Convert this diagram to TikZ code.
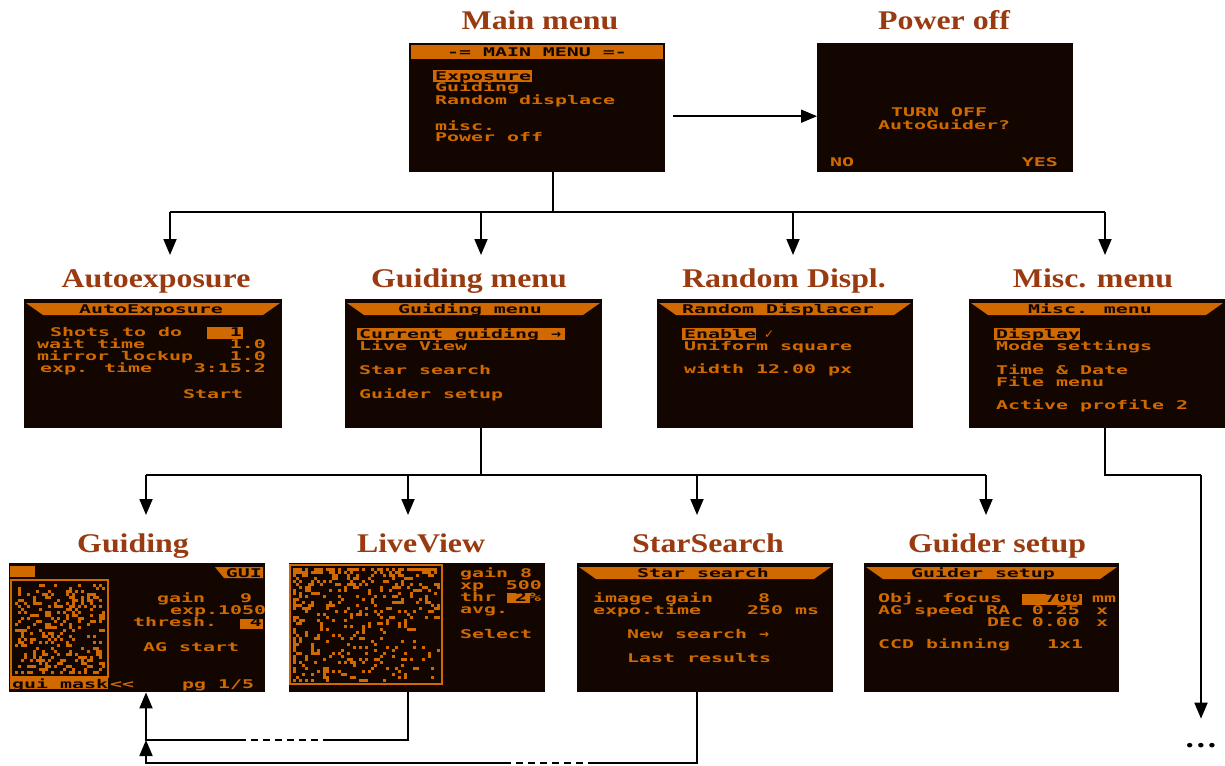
\documentclass[tikz,border=0pt]{standalone}
\usepackage{fontspec}
\usetikzlibrary{arrows.meta}
\newfontfamily\lcdfam[FakeStretch=1.66]{DejaVu Sans Mono}
\newfontfamily\ttlfam[FakeStretch=1.18]{Liberation Serif}
\newfontfamily\symfam{DejaVu Sans}
\definecolor{lcdbg}{HTML}{130500}
\definecolor{lcdor}{HTML}{D06A00}
\definecolor{ttlc}{HTML}{9A3A10}
\tikzset{
  scr/.style={rectangle, fill=lcdbg, inner sep=0pt, anchor=north west},
  ttl/.style={font=\ttlfam\bfseries\fontsize{27}{27}\selectfont, text=ttlc, anchor=base, inner sep=0pt},
  lt/.style={font=\lcdfam\bfseries\fontsize{12}{12}\selectfont, text=lcdor, anchor=base west, inner sep=0pt},
  lr/.style={lt, anchor=base east},
  lc/.style={lt, anchor=base},
  hl/.style={text=lcdbg},
  ln/.style={line width=1.8pt, black},
  arr/.style={ln, -{Triangle[length=16pt,width=13pt]}},
  dsh/.style={ln, dash pattern=on 7pt off 5pt},
}
\begin{document}
\begin{tikzpicture}[x=1pt,y=-1pt]
\useasboundingbox (0,0) rectangle (1225,765);
\fill[white] (0,0) rectangle (1225,765);

% ---------- screens ----------
\node[scr, minimum width=256pt, minimum height=129pt] (main) at (409,43) {};
\node[scr, minimum width=256pt, minimum height=129pt] (power) at (817,43) {};
\node[scr, minimum width=258pt, minimum height=129pt] (auto) at (24,299) {};
\node[scr, minimum width=257pt, minimum height=129pt] (gmenu) at (345,299) {};
\node[scr, minimum width=256pt, minimum height=129pt] (rand) at (657,299) {};
\node[scr, minimum width=256pt, minimum height=129pt] (misc) at (969,299) {};
\node[scr, minimum width=256pt, minimum height=129pt] (guid) at (9,563) {};
\node[scr, minimum width=256pt, minimum height=129pt] (live) at (289,563) {};
\node[scr, minimum width=256pt, minimum height=129pt] (star) at (577,563) {};
\node[scr, minimum width=255pt, minimum height=129pt] (gset) at (864,563) {};

% ---------- titles ----------
\node[ttl] (tmain) at (540,30) {Main menu};
\node[ttl] (tpower) at (944,30) {Power off};
\node[ttl] (tauto) at (156,287) {Autoexposure};
\node[ttl] (tgmenu) at (469,287) {Guiding menu};
\node[ttl] (trand) at (784,287) {Random Displ.};
\node[ttl] (tmisc) at (1093,287) {Misc. menu};
\node[ttl] (tguid) at (133,552) {Guiding};
\node[ttl] (tlive) at (421,552) {LiveView};
\node[ttl] (tstar) at (708,552) {StarSearch};
\node[ttl] (tgset) at (997,552) {Guider setup};

% ---------- main menu ----------
\fill[lcdor] (411,45) rectangle (663,59);
\node[lc, hl] (mm0) at (537,57) {-= MAIN MENU =-};
\fill[lcdor] (433,70) rectangle (532,82);
\node[lt, hl] (mm1) at (435,81) {Exposure};
\node[lt] (mm2) at (435,92) {Guiding};
\node[lt] (mm3) at (435,105) {Random displace};
\node[lt] (mm4) at (435,130) {misc.};
\node[lt] (mm5) at (435,142) {Power off};

% ---------- power off ----------
\node[lt] (po1) at (891,117) {TURN OFF};
\node[lt] (po2) at (878,129) {AutoGuider?};
\node[lt] (po3) at (830,166) {NO};
\node[lr] (po4) at (1058,166) {YES};

% ---------- banners ----------
\foreach \xa/\xb/\yt in {26/280/303, 347/600/303, 659/911/303, 971/1223/303, 579/831/567, 866/1117/567}{
  \fill[lcdor] (\xa,\yt) -- (\xb,\yt) -- (\xb-17,\yt+12) -- (\xa+17,\yt+12) -- cycle;
}

% ---------- autoexposure ----------
\node[lc, hl] (ae0) at (151,313) {AutoExposure};
\node[lt] (ae1) at (50,336) {Shots to do};
\fill[lcdor] (207,327) rectangle (243,339);
\node[lr, hl] (ae1v) at (242,336) {1};
\node[lt] (ae2) at (37,348) {wait time};
\node[lr] (ae2v) at (266,348) {1.0};
\node[lt] (ae3) at (37,360) {mirror lockup};
\node[lr] (ae3v) at (266,360) {1.0};
\node[lt] (ae4) at (40,372) {exp. time};
\node[lr] (ae4v) at (266,372) {3:15.2};
\node[lt] (ae5) at (183,398) {Start};

% ---------- guiding menu ----------
\node[lc, hl] (gm0) at (470,313) {Guiding menu};
\fill[lcdor] (357,328) rectangle (565,340);
\node[lt, hl] (gm1) at (359,338) {Current guiding \symfam→};
\node[lt] (gm2) at (359,350) {Live View};
\node[lt] (gm3) at (359,374) {Star search};
\node[lt] (gm4) at (359,398) {Guider setup};

% ---------- random displacer ----------
\node[lc, hl] (rd0) at (778,313) {Random Displacer};
\fill[lcdor] (682,328) rectangle (756,340);
\node[lt, hl] (rd1) at (684,338) {Enable};
\node[lt] (rd1c) at (764,338) {\symfam\bfseries ✓};
\node[lt] (rd2) at (684,350) {Uniform square};
\node[lt] (rd3) at (684,373) {width 12.00 px};

% ---------- misc ----------
\node[lc, hl] (mi0) at (1090,313) {Misc. menu};
\fill[lcdor] (994,328) rectangle (1080,340);
\node[lt, hl] (mi1) at (996,338) {Display};
\node[lt] (mi2) at (996,350) {Mode settings};
\node[lt] (mi3) at (996,374) {Time \& Date};
\node[lt] (mi4) at (996,386) {File menu};
\node[lt] (mi5) at (996,409) {Active profile 2};

% ---------- guiding screen ----------
\fill[lcdor] (10,566) rectangle (35,577);
\fill[lcdor] (215,567) -- (263,567) -- (263,578) -- (224,578) -- cycle;
\node[lr, hl] (gu0) at (262,577) {GUI};
\draw[lcdor, line width=2pt] (11,580) rectangle (108,677);
\pgfmathsetseed{12}
\foreach \i in {1,...,300}{
  \pgfmathsetmacro\xx{15+int(rnd*30)*3}
  \pgfmathsetmacro\yy{584+int(rnd*30)*3}
  \fill[lcdor] (\xx,\yy) rectangle ++(3,3);
}
\node[lt] (gu1) at (157,602) {gain};
\node[lt] (gu1v) at (240,602) {9};
\node[lt] (gu2) at (170,614) {exp.1050};
\node[lt] (gu3) at (133,626) {thresh.};
\fill[lcdor] (240,619) rectangle (263,629);
\node[lr, hl] (gu3v) at (262,626) {4};
\node[lt] (gu4) at (143,651) {AG start};
\fill[lcdor] (10,677) rectangle (108,689);
\node[lt, hl] (gu5) at (12,688) {gui mask};
\node[lt] (gu6) at (110,688) {<<};
\node[lt] (gu7) at (182,688) {pg 1/5};

% ---------- liveview ----------
\draw[lcdor, line width=2pt] (290,565) rectangle (442,684);
\pgfmathsetseed{5}
\foreach \i in {1,...,300}{
  \pgfmathsetmacro\xx{293+int(49*rnd)*3}
  \pgfmathsetmacro\yy{568+int(38*rnd^2.2)*3}
  \fill[lcdor] (\xx,\yy) rectangle ++(3,3);
}
\foreach \i in {1,...,180}{
  \pgfmathsetmacro\xx{293+int(49*rnd^2.5)*3}
  \pgfmathsetmacro\yy{568+int(38*rnd)*3}
  \fill[lcdor] (\xx,\yy) rectangle ++(3,3);
}
\node[lt] (lv1) at (460,577) {gain 8};
\node[lt] (lv2) at (460,589) {xp};
\node[lr] (lv2v) at (542,589) {500};
\node[lt] (lv3) at (460,601) {thr};
\fill[lcdor] (507,593) rectangle (530,603);
\node[lt, hl] (lv3v) at (515,601) {2};
\node[lt] (lv3p) at (529,601) {\%};
\node[lt] (lv4) at (460,613) {avg.};
\node[lt] (lv5) at (460,638) {Select};

% ---------- star search ----------
\node[lc, hl] (ss0) at (703,577) {Star search};
\node[lt] (ss1) at (593,602) {image gain};
\node[lt] (ss1v) at (758,602) {8};
\node[lt] (ss2) at (593,614) {expo.time};
\node[lt] (ss2v) at (747,614) {250 ms};
\node[lt] (ss3) at (627,638) {New search \symfam→};
\node[lt] (ss4) at (627,662) {Last results};

% ---------- guider setup ----------
\node[lc, hl] (gs0) at (983,577) {Guider setup};
\node[lt] (gs1) at (878,602) {Obj. focus};
\fill[lcdor] (1022,594) rectangle (1082,605);
\node[lr, hl] (gs1v) at (1081,602) {700};
\node[lt] (gs1u) at (1092,602) {mm};
\node[lt] (gs2) at (878,614) {AG speed RA};
\node[lr] (gs2v) at (1080,614) {0.25};
\node[lt] (gs2u) at (1096,614) {x};
\node[lt] (gs3) at (987,626) {DEC};
\node[lr] (gs3v) at (1080,626) {0.00};
\node[lt] (gs3u) at (1096,626) {x};
\node[lt] (gs4) at (878,648) {CCD binning};
\node[lt] (gs4v) at (1047,648) {1x1};

% ---------- more ----------
\node[font=\ttlfam\bfseries\fontsize{28}{28}\selectfont, anchor=base, inner sep=0pt] (more) at (1201,747) {\ldots};

% ---------- connectors ----------
\draw[arr] ([xshift=8pt,yshift=-8.5pt]main.east) -- ([yshift=-8.5pt]power.west);

\coordinate (j1) at (553,212);
\coordinate (b1) at (170,212);
\coordinate (b2) at (481,212);
\coordinate (b3) at (793,212);
\coordinate (b4) at (1105,212);
\draw[ln] (main.south -| j1) -- (j1);
\draw[ln] (b1) -- (b4);
\draw[arr, shorten >=44pt] (b1) -- (b1 |- auto.north);
\draw[arr, shorten >=44pt] (b2) -- (b2 |- gmenu.north);
\draw[arr, shorten >=44pt] (b3) -- (b3 |- rand.north);
\draw[arr, shorten >=44pt] (b4) -- (b4 |- misc.north);

\coordinate (j2) at (481,475);
\coordinate (c1) at (146,475);
\coordinate (c2) at (408,475);
\coordinate (c3) at (697,475);
\coordinate (c4) at (986,475);
\draw[ln] (gmenu.south -| j2) -- (j2);
\draw[ln] (c1) -- (c4);
\draw[arr, shorten >=48pt] (c1) -- (c1 |- guid.north);
\draw[arr, shorten >=48pt] (c2) -- (c2 |- live.north);
\draw[arr, shorten >=48pt] (c3) -- (c3 |- star.north);
\draw[arr, shorten >=48pt] (c4) -- (c4 |- gset.north);

\coordinate (m1) at (1105,475);
\coordinate (m2) at (1201,475);
\draw[ln] (misc.south -| m1) -- (m1) -- (m2);
\draw[arr, shorten >=24pt] (m2) -- (m2 |- more.north);

\coordinate (f1) at (408,740);
\coordinate (fa) at (330,740);
\coordinate (fb) at (240,740);
\coordinate (fc) at (146,740);
\draw[ln] (live.south -| f1) -- (f1) -- (fa);
\draw[dsh] (fa) -- (fb);
\draw[arr] (fb) -- (fc) -- (guid.south -| fc);

\coordinate (g1) at (697,763);
\coordinate (ga) at (595,763);
\coordinate (gb) at (510,763);
\coordinate (gc) at (146,763);
\draw[ln] (star.south -| g1) -- (g1) -- (ga);
\draw[dsh] (ga) -- (gb);
\draw[arr] (gb) -- (gc) -- (fc);
\end{tikzpicture}
\end{document}
